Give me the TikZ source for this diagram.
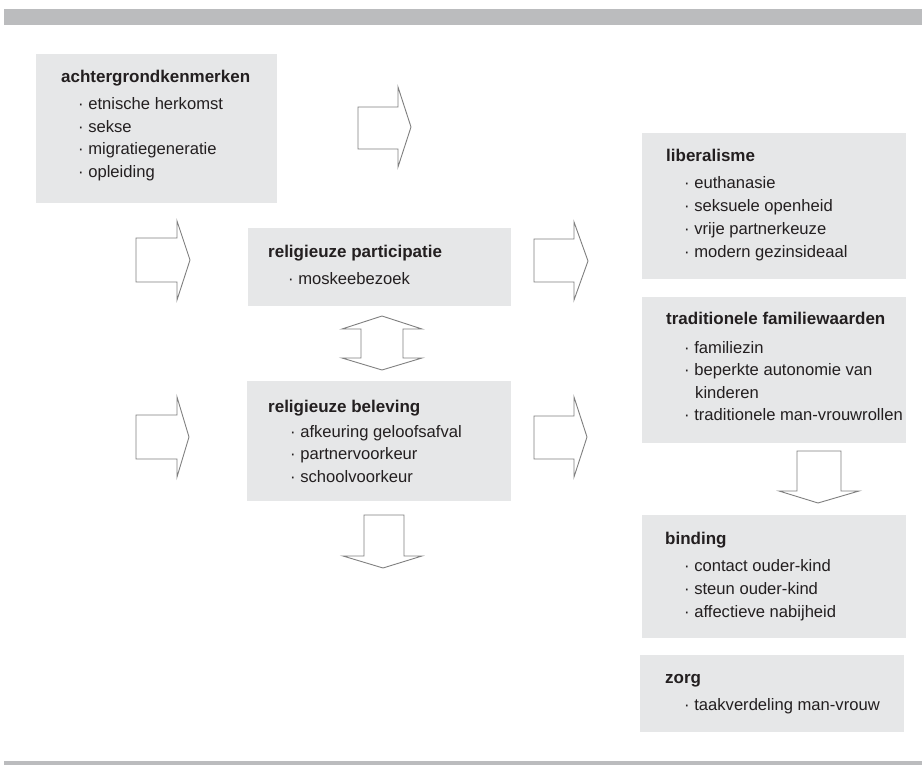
\documentclass[tikz,border=0pt]{standalone}
\usepackage{fontspec}
\setmainfont{Liberation Sans}
\definecolor{boxgray}{HTML}{E6E7E8}
\definecolor{bargray}{HTML}{BBBCBE}
\definecolor{arrgray}{HTML}{7F7F7F}
\definecolor{txt}{HTML}{231F20}
\tikzset{
  boxbg/.style={fill=boxgray, draw=none},
  barbg/.style={fill=bargray, draw=none},
  fatarrow/.style={draw=arrgray, fill=white, line width=0.9pt, line join=miter},
  hd/.style={anchor=base west, inner sep=0pt, text=txt, font=\fontsize{17}{20}\selectfont\bfseries},
  itm/.style={anchor=base west, inner sep=0pt, text=txt, font=\fontsize{16.6}{20}\selectfont},
}
\begin{document}
\begin{tikzpicture}[x=1pt, y=-1pt]
\useasboundingbox (0,0) rectangle (922,765);
% bars
\fill[barbg] (4,9) rectangle (922,25);
\fill[barbg] (4,761) rectangle (922,765);

% boxes
\path[boxbg] (36,54) rectangle (277,203) node[pos=0.5] (achter) {};
\path[boxbg] (248,228) rectangle (511,306) node[pos=0.5] (partic) {};
\path[boxbg] (247,381) rectangle (511,501) node[pos=0.5] (belev) {};
\path[boxbg] (642,133) rectangle (906,279) node[pos=0.5] (liber) {};
\path[boxbg] (642,297) rectangle (906,443) node[pos=0.5] (trad) {};
\path[boxbg] (642,515) rectangle (906,638) node[pos=0.5] (bind) {};
\path[boxbg] (640,655) rectangle (904,732) node[pos=0.5] (zorg) {};

% achtergrondkenmerken
\node[hd] (h1) at (61,83) {achtergrondkenmerken};
\node[itm] (i11) at (78,110) {· etnische herkomst};
\node[itm] (i12) at (78,132.5) {· sekse};
\node[itm] (i13) at (78,155) {· migratiegeneratie};
\node[itm] (i14) at (78,177.5) {· opleiding};

% religieuze participatie
\node[hd] (h2) at (268,258) {religieuze participatie};
\node[itm] (i21) at (288,284) {· moskeebezoek};

% religieuze beleving
\node[hd] (h3) at (268,412) {religieuze beleving};
\node[itm] (i31) at (290,437) {· afkeuring geloofsafval};
\node[itm] (i32) at (290,459.5) {· partnervoorkeur};
\node[itm] (i33) at (290,482) {· schoolvoorkeur};

% liberalisme
\node[hd] (h4) at (666,162) {liberalisme};
\node[itm] (i41) at (684,189) {· euthanasie};
\node[itm] (i42) at (684,212) {· seksuele openheid};
\node[itm] (i43) at (684,235) {· vrije partnerkeuze};
\node[itm] (i44) at (684,258) {· modern gezinsideaal};

% traditionele familiewaarden
\node[hd] (h5) at (666,324) {traditionele familiewaarden};
\node[itm] (i51) at (684,353) {· familiezin};
\node[itm] (i52) at (684,375.5) {· beperkte autonomie van};
\node[itm] (i53) at (695,398) {kinderen};
\node[itm] (i54) at (684,420.5) {· traditionele man-vrouwrollen};

% binding
\node[hd] (h6) at (665,544) {binding};
\node[itm] (i61) at (684,571) {· contact ouder-kind};
\node[itm] (i62) at (684,594) {· steun ouder-kind};
\node[itm] (i63) at (684,617) {· affectieve nabijheid};

% zorg
\node[hd] (h7) at (665,683) {zorg};
\node[itm] (i71) at (684,710) {· taakverdeling man-vrouw};

% right-pointing fat arrows
\draw[fatarrow] (358,107) -- (398,107) -- (398,87) -- (411,127) -- (398,167) -- (398,149) -- (358,149) -- cycle;
\draw[fatarrow] (136,238) -- (177,238) -- (177,221) -- (190,260) -- (177,300) -- (177,282) -- (136,282) -- cycle;
\draw[fatarrow] (136,415) -- (177,415) -- (177,397) -- (189,437) -- (177,477) -- (177,459) -- (136,459) -- cycle;
\draw[fatarrow] (534,239) -- (574,239) -- (574,222) -- (588,261) -- (574,300) -- (574,282) -- (534,282) -- cycle;
\draw[fatarrow] (534,416) -- (574,416) -- (574,397) -- (587,437) -- (574,477) -- (574,459) -- (534,459) -- cycle;

% double vertical arrow
\draw[fatarrow] (382,316) -- (422,329) -- (403,329) -- (403,358) -- (422,358) -- (382,370)
  -- (342,358) -- (361,358) -- (361,329) -- (342,329) -- cycle;

% down arrows
\draw[fatarrow] (364,515) -- (404,515) -- (404,556) -- (422,556) -- (383,568) -- (343,556) -- (364,556) -- cycle;
\draw[fatarrow] (797,451) -- (841,451) -- (841,491) -- (859,491) -- (818,503) -- (779,491) -- (797,491) -- cycle;
\end{tikzpicture}
\end{document}
